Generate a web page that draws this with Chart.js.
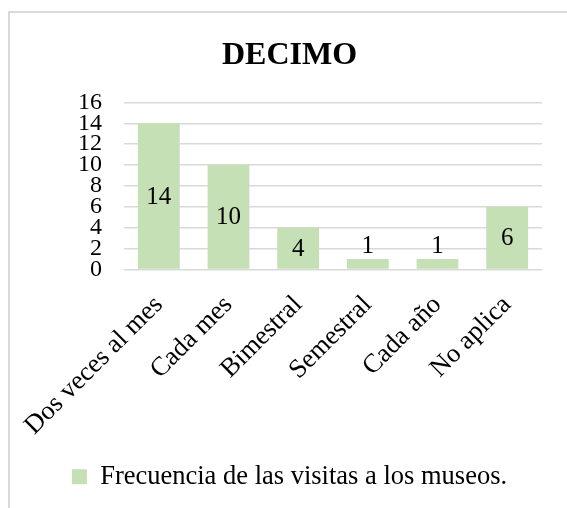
<!DOCTYPE html>
<html>
<head>
<meta charset="utf-8">
<script src="https://cdn.jsdelivr.net/npm/chart.js@4"></script>
<style>
  html, body { margin: 0; padding: 0; background: #fff; overflow: hidden; }
  #frame { position: absolute; left: 8px; top: 11px; width: 620px; height: 560px; border: 2px solid #d9d9d9; box-sizing: border-box; }
  #c { position: absolute; left: 9px; top: 12px; }
</style>
</head>
<body>
<div id="frame"></div>
<canvas id="c" width="561" height="496"></canvas>
<script>
// chart data
const categories = ['Dos veces al mes', 'Cada mes', 'Bimestral', 'Semestral', 'Cada año', 'No aplica'];
const visitas = [14, 10, 4, 1, 1, 6];
const yTicks = [0, 2, 4, 6, 8, 10, 12, 14, 16];
const seriesName = 'Frecuencia de las visitas a los museos.';
const chartTitle = 'DECIMO';

const serif = "'Liberation Serif', 'Times New Roman', serif";

// value labels: centered in the bar, or just above it when the bar is too short
const barLabels = {
  id: 'barLabels',
  afterDatasetsDraw(chart) {
    const ctx = chart.ctx;
    const meta = chart.getDatasetMeta(0);
    ctx.save();
    ctx.font = '25px ' + serif;
    ctx.fillStyle = '#000';
    ctx.textAlign = 'center';
    meta.data.forEach((bar, i) => {
      const v = chart.data.datasets[0].data[i];
      const h = bar.base - bar.y;
      if (h > 24) {
        ctx.textBaseline = 'middle';
        ctx.fillText(String(v), bar.x, (bar.y + bar.base) / 2 + 1);
      } else {
        ctx.textBaseline = 'alphabetic';
        ctx.fillText(String(v), bar.x, bar.y - 6);
      }
    });
    ctx.restore();
  }
};

new Chart(document.getElementById('c'), {
  type: 'bar',
  data: {
    labels: categories,
    datasets: [{
      label: seriesName,
      data: visitas,
      backgroundColor: '#c5e0b4',
      borderWidth: 0,
      barPercentage: 0.6,
      categoryPercentage: 1
    }]
  },
  options: {
    responsive: false,
    animation: false,
    layout: { padding: { left: 28, right: 28, top: 0, bottom: 8 } },
    plugins: {
      title: {
        display: true,
        text: chartTitle,
        color: '#000',
        font: { family: serif, size: 32, weight: 'bold' },
        padding: { top: 25, bottom: 27 }
      },
      legend: {
        position: 'bottom',
        labels: {
          color: '#000',
          font: { family: serif, size: 26.5 },
          boxWidth: 15,
          boxHeight: 15,
          padding: 10
        }
      },
      tooltip: { enabled: false }
    },
    scales: {
      x: {
        grid: { display: false },
        border: { display: false },
        ticks: {
          color: '#000',
          font: { family: serif, size: 26.5 },
          minRotation: 45,
          maxRotation: 45,
          autoSkip: false,
          padding: 12
        },
        afterFit(scale) {
          scale.height = 184;
          scale.paddingLeft = 0;
          scale.paddingRight = 0;
        }
      },
      y: {
        min: 0,
        max: 16,
        afterBuildTicks(scale) { scale.ticks = yTicks.map(v => ({ value: v })); },
        grid: { color: '#d9d9d9', lineWidth: 1.5, drawTicks: false },
        border: { display: false },
        ticks: {
          color: '#000',
          font: { family: serif, size: 24 },
          padding: 22,
          autoSkip: false
        },
        afterFit(scale) { scale.width = 87; }
      }
    }
  },
  plugins: [barLabels]
});
</script>
</body>
</html>
